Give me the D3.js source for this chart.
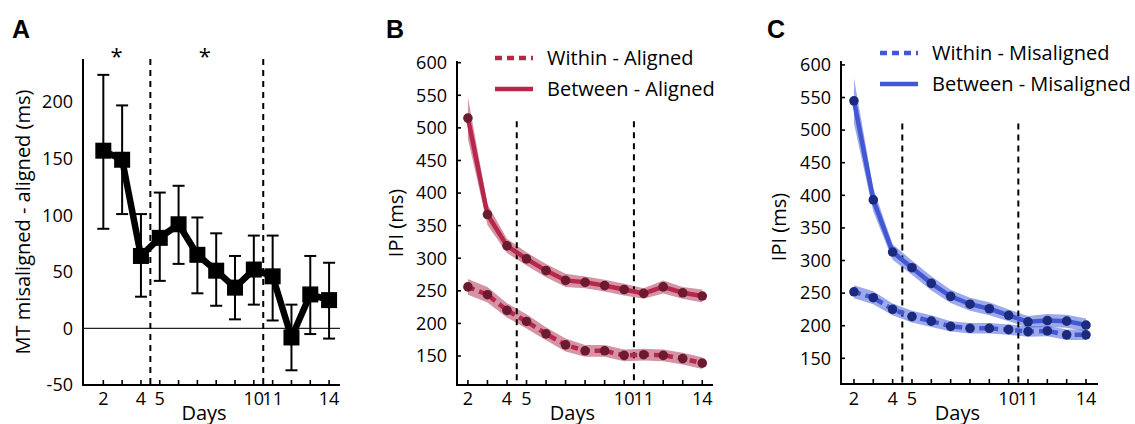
<!DOCTYPE html>
<html>
<head>
<meta charset="utf-8">
<script src="https://cdn.jsdelivr.net/npm/d3@7.9.0/dist/d3.min.js"></script>
<style>
  body { margin: 0; background: #fff; }
  svg { display: block; font-family: "Open Sans", sans-serif; }
  .letter { font-family: "Liberation Sans", Arial, sans-serif; font-weight: bold; font-size: 25px; }
</style>
</head>
<body>
<svg id="chart" width="1135" height="424"></svg>
<script>
// days of training
const days = [2, 3, 4, 5, 6, 7, 8, 9, 10, 11, 12, 13, 14];
const dayLabels = [2, 4, 5, 10, 11, 14];
const dayBreaks = [4.5, 10.5];

// panel A: MT misaligned - aligned (ms), with error bar bounds
const mtDiff = [157, 149, 64, 80, 92, 65, 51, 36, 52, 46, -8, 30, 25];
const mtHi = [224, 197, 101, 120, 126, 98, 84, 64, 82, 82, 21, 64, 58];
const mtLo = [88, 101, 28, 42, 57, 31, 20, 8, 21, 7, -37, -5, -9];
const starDays = [2.7, 7.4];
const ticksA = [-50, 0, 50, 100, 150, 200];

// panel B: IPI aligned (ms)
const withinAligned = [256, 244, 220, 203, 184, 167, 158, 158, 151, 152, 151, 146, 139];
const withinAlignedSE = [12, 12, 11, 11, 10, 10, 9, 9, 9, 9, 9, 9, 9];
const betweenAligned = [515, 367, 319, 299, 281, 266, 263, 258, 252, 246, 256, 247, 242];
const betweenAlignedSE = [32, 16, 11, 10, 10, 10, 9, 9, 9, 8, 10, 9, 10];

// panel C: IPI misaligned (ms)
const withinMis = [252, 243, 225, 214, 207, 199, 196, 196, 194, 191, 192, 186, 186];
const withinMisSE = [10, 10, 9, 9, 9, 8, 8, 8, 8, 8, 8, 8, 8];
const betweenMis = [545, 393, 313, 289, 265, 245, 233, 226, 216, 206, 208, 207, 201];
const betweenMisSE = [35, 18, 12, 11, 11, 10, 10, 10, 9, 9, 10, 10, 10];

const ticksIPI = [150, 200, 250, 300, 350, 400, 450, 500, 550, 600];

const svg = d3.select("#chart");

// shared x axis drawing: inward ticks at every day, labels on a few
function drawXAxis(g, x, y0, fontSize) {
  const [x0, x1] = x.range();
  g.append("line").attr("x1", x0).attr("x2", x1).attr("y1", y0).attr("y2", y0)
    .attr("stroke", "#000").attr("stroke-width", 2);
  days.forEach(d => {
    g.append("line").attr("x1", x(d)).attr("x2", x(d)).attr("y1", y0).attr("y2", y0 - 5)
      .attr("stroke", "#000").attr("stroke-width", 1.6);
  });
  dayLabels.forEach(d => {
    g.append("text").attr("x", x(d)).attr("y", 405).attr("text-anchor", "middle")
      .attr("font-size", fontSize).text(d);
  });
  g.append("text").attr("x", x(7.35)).attr("y", 419.5).attr("text-anchor", "middle")
    .attr("font-size", 20).text("Days");
}

function drawYAxis(g, y, xPos, ticks, fontSize, inwardTicks) {
  const [yb, yt] = y.range();
  g.append("line").attr("x1", xPos).attr("x2", xPos).attr("y1", yb + 1).attr("y2", yt)
    .attr("stroke", "#000").attr("stroke-width", 2);
  ticks.forEach(t => {
    if (inwardTicks) {
      g.append("line").attr("x1", xPos).attr("x2", xPos + 4).attr("y1", y(t)).attr("y2", y(t))
        .attr("stroke", "#000").attr("stroke-width", 1.6);
    }
    g.append("text").attr("x", xPos - 10).attr("y", y(t)).attr("dy", "0.35em")
      .attr("text-anchor", "end").attr("font-size", fontSize).text(t);
  });
}

function drawBreaks(g, x, y, topVal) {
  const [yb] = y.range();
  dayBreaks.forEach(d => {
    g.append("line").attr("x1", x(d)).attr("x2", x(d)).attr("y1", y(topVal)).attr("y2", yb)
      .attr("stroke", "#000").attr("stroke-width", 2).attr("stroke-dasharray", "6,5");
  });
}

// ---------- Panel A ----------
{
  const g = svg.append("g");
  const x = d3.scaleLinear().domain([0.92, 14.58]).range([83, 340]);
  const y = d3.scaleLinear().domain([-50, 238]).range([385, 59]);

  g.append("text").attr("class", "letter").attr("x", 12).attr("y", 37.5).text("A");
  drawYAxis(g, y, 83, ticksA, 18, false);
  drawXAxis(g, x, 385, 18);

  g.append("text")
    .attr("transform", "translate(30,222) rotate(-90)")
    .attr("text-anchor", "middle").attr("font-size", 20).text("MT misaligned - aligned (ms)");

  g.append("line").attr("x1", 83).attr("x2", 340).attr("y1", y(0)).attr("y2", y(0))
    .attr("stroke", "#222").attr("stroke-width", 1.4);
  drawBreaks(g, x, y, 238);

  starDays.forEach(d => {
    g.append("text").attr("x", x(d)).attr("y", 64).attr("text-anchor", "middle")
      .attr("font-size", 22).text("*");
  });

  // error bars
  days.forEach((d, i) => {
    g.append("line").attr("x1", x(d)).attr("x2", x(d)).attr("y1", y(mtHi[i])).attr("y2", y(mtLo[i]))
      .attr("stroke", "#000").attr("stroke-width", 2);
    [mtHi[i], mtLo[i]].forEach(v => {
      g.append("line").attr("x1", x(d) - 6).attr("x2", x(d) + 6).attr("y1", y(v)).attr("y2", y(v))
        .attr("stroke", "#000").attr("stroke-width", 2);
    });
  });

  const line = d3.line().x((d, i) => x(days[i])).y(d => y(d));
  g.append("path").attr("d", line(mtDiff)).attr("fill", "none")
    .attr("stroke", "#000").attr("stroke-width", 6.5).attr("stroke-linejoin", "miter");

  g.selectAll("rect.mk").data(mtDiff).enter().append("rect")
    .attr("x", (d, i) => x(days[i]) - 8).attr("y", d => y(d) - 8)
    .attr("width", 16).attr("height", 16).attr("fill", "#000");
}

// ---------- IPI panels ----------
function ipiPanel(opts) {
  const g = svg.append("g");
  const x = d3.scaleLinear().domain(opts.xDomain).range(opts.xRange);
  const y = d3.scaleLinear().domain(opts.yDomain).range([opts.yBottom, 61]);

  g.append("text").attr("class", "letter").attr("x", opts.letterX).attr("y", 38).text(opts.letter);
  drawYAxis(g, y, opts.xRange[0], ticksIPI, 18, true);
  drawXAxis(g, x, opts.yBottom, 18);

  g.append("text")
    .attr("transform", `translate(${opts.yLabelX},${opts.yLabelY}) rotate(-90)`)
    .attr("text-anchor", "middle").attr("font-size", 20).text("IPI (ms)");

  const area = d3.area().x((d, i) => x(days[i]))
    .y0(d => y(d[0] - d[1])).y1(d => y(d[0] + d[1]));
  const line = d3.line().x((d, i) => x(days[i])).y(d => y(d));

  [[opts.within, opts.withinSE], [opts.between, opts.betweenSE]].forEach(([vals, se]) => {
    g.append("path").attr("d", area(vals.map((v, i) => [v, se[i]])))
      .attr("fill", opts.band).attr("fill-opacity", 0.55);
  });

  drawBreaks(g, x, y, 510);

  g.append("path").attr("d", line(opts.between)).attr("fill", "none")
    .attr("stroke", opts.color).attr("stroke-width", 4.5);
  g.append("path").attr("d", line(opts.within)).attr("fill", "none")
    .attr("stroke", opts.color).attr("stroke-width", 4.5).attr("stroke-dasharray", "7,5");

  [opts.within, opts.between].forEach(vals => {
    g.selectAll(null).data(vals).enter().append("circle")
      .attr("cx", (d, i) => x(days[i])).attr("cy", d => y(d)).attr("r", 4.8)
      .attr("fill", opts.marker);
  });

  // legend
  const lg = g.append("g").attr("font-size", 20);
  opts.legend.forEach((lab, i) => {
    const ly = opts.legendY + i * 31;
    lg.append("line").attr("x1", opts.legendX).attr("x2", opts.legendX + 38)
      .attr("y1", ly).attr("y2", ly).attr("stroke", opts.color).attr("stroke-width", 4.5)
      .attr("stroke-dasharray", i === 0 ? "7,5" : null);
    lg.append("text").attr("x", opts.legendX + 52).attr("y", ly).attr("dy", "0.35em").text(lab);
  });
}

ipiPanel({
  letter: "B", letterX: 386,
  xDomain: [1.44, 14.55], xRange: [457, 713],
  yDomain: [105.5, 602.6], yBottom: 385,
  yLabelX: 403, yLabelY: 223,
  within: withinAligned, withinSE: withinAlignedSE,
  between: betweenAligned, betweenSE: betweenAlignedSE,
  color: "#b7274a", marker: "#6b1a2f", band: "#b33a5c",
  legend: ["Within - Aligned", "Between - Aligned"], legendX: 495, legendY: 58
});

ipiPanel({
  letter: "C", letterX: 767,
  xDomain: [1.33, 14.62], xRange: [841, 1098],
  yDomain: [110.6, 606], yBottom: 384,
  yLabelX: 786, yLabelY: 227,
  within: withinMis, withinSE: withinMisSE,
  between: betweenMis, betweenSE: betweenMisSE,
  color: "#4257d3", marker: "#1b2a7d", band: "#4a62d8",
  legend: ["Within - Misaligned", "Between - Misaligned"], legendX: 880, legendY: 53
});
</script>
</body>
</html>
